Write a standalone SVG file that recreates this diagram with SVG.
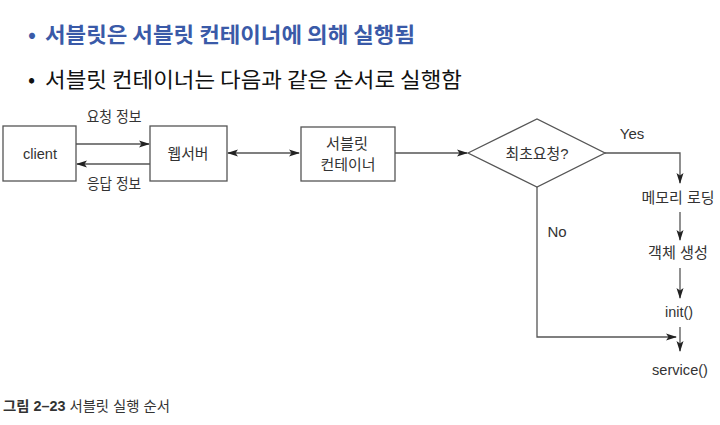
<svg xmlns="http://www.w3.org/2000/svg" width="720" height="425" viewBox="0 0 720 425">
<defs>
<marker id="ah" markerWidth="11" markerHeight="8" refX="10" refY="4" orient="auto" markerUnits="userSpaceOnUse">
<path d="M0,0.5 L11,4 L0,7.5 L2.5,4 z" fill="#222"/>
</marker>
<marker id="ahs" markerWidth="11" markerHeight="8" refX="1" refY="4" orient="auto" markerUnits="userSpaceOnUse">
<path d="M11,0.5 L0,4 L11,7.5 L8.5,4 z" fill="#222"/>
</marker>
<style>
.t{font-family:"Liberation Sans","Noto Sans CJK KR",sans-serif;font-size:15px;fill:#333;text-anchor:middle}
.box{fill:#fff;stroke:#555;stroke-width:1.3}
.ln{fill:none;stroke:#555;stroke-width:1.3}
.h{font-family:"Noto Sans CJK KR","Noto Sans",sans-serif;font-size:21px}
</style>
</defs>
<rect width="720" height="425" fill="#fff"/>
<g id="title">
<text x="28" y="42" class="h" fill="#3a5aa8" font-weight="bold">•</text>
<text x="45" y="42" class="h" fill="#3a5aa8" font-weight="bold" textLength="370" lengthAdjust="spacingAndGlyphs">서블릿은 서블릿 컨테이너에 의해 실행됨</text>
<text x="28" y="87" class="h" fill="#111">•</text>
<text x="45" y="87" class="h" fill="#111" textLength="417" lengthAdjust="spacingAndGlyphs">서블릿 컨테이너는 다음과 같은 순서로 실행함</text>
</g>
<g id="connectors">
<line class="ln" x1="76" y1="144" x2="149" y2="144" marker-end="url(#ah)"/>
<line class="ln" x1="150" y1="164" x2="77" y2="164" marker-end="url(#ah)"/>
<line class="ln" x1="228" y1="153" x2="299" y2="153" marker-start="url(#ahs)" marker-end="url(#ah)"/>
<line class="ln" x1="395" y1="153" x2="467" y2="153" marker-end="url(#ah)"/>
<polyline class="ln" points="605,153 680,153 680,183" marker-end="url(#ah)"/>
<line class="ln" x1="680" y1="212" x2="680" y2="240" marker-end="url(#ah)"/>
<line class="ln" x1="680" y1="268" x2="680" y2="298" marker-end="url(#ah)"/>
<line class="ln" x1="680" y1="327" x2="680" y2="351" marker-end="url(#ah)"/>
<polyline class="ln" points="537,187 537,337 676,337" marker-end="url(#ah)"/>
<text x="114" y="122" class="t" font-size="14" textLength="55" lengthAdjust="spacingAndGlyphs">요청 정보</text>
<text x="114" y="189" class="t" font-size="14" textLength="54" lengthAdjust="spacingAndGlyphs">응답 정보</text>
<text x="632" y="139" class="t" font-size="13">Yes</text>
<text x="557" y="237" class="t" font-size="13">No</text>
</g>
<g id="client">
<rect class="box" x="3" y="126" width="73" height="55"/>
<text x="40" y="159" class="t" textLength="34" lengthAdjust="spacingAndGlyphs">client</text>
</g>
<g id="webserver">
<rect class="box" x="150" y="126" width="77" height="55"/>
<text x="188" y="159" class="t" textLength="41" lengthAdjust="spacingAndGlyphs">웹서버</text>
</g>
<g id="container">
<rect class="box" x="301" y="127" width="94" height="54"/>
<text x="347" y="149" class="t" textLength="42" lengthAdjust="spacingAndGlyphs">서블릿</text>
<text x="348" y="170" class="t" textLength="55" lengthAdjust="spacingAndGlyphs">컨테이너</text>
</g>
<g id="decision">
<polygon class="box" points="468,153 537,119 605,153 537,187"/>
<text x="537" y="159" class="t" textLength="63" lengthAdjust="spacingAndGlyphs">최초요청?</text>
</g>
<g id="memload"><text x="678" y="203" class="t" textLength="73" lengthAdjust="spacingAndGlyphs">메모리 로딩</text></g>
<g id="create"><text x="678" y="258" class="t" textLength="60" lengthAdjust="spacingAndGlyphs">객체 생성</text></g>
<g id="init"><text x="679" y="317" class="t" textLength="28" lengthAdjust="spacingAndGlyphs">init()</text></g>
<g id="service"><text x="680" y="375" class="t" textLength="56" lengthAdjust="spacingAndGlyphs">service()</text></g>
<g id="caption">
<text x="3" y="411" font-family="Liberation Sans,Noto Sans CJK KR,sans-serif" font-size="14" fill="#333" textLength="167" lengthAdjust="spacingAndGlyphs"><tspan font-weight="bold">그림 2–23</tspan> 서블릿 실행 순서</text>
</g>
</svg>
